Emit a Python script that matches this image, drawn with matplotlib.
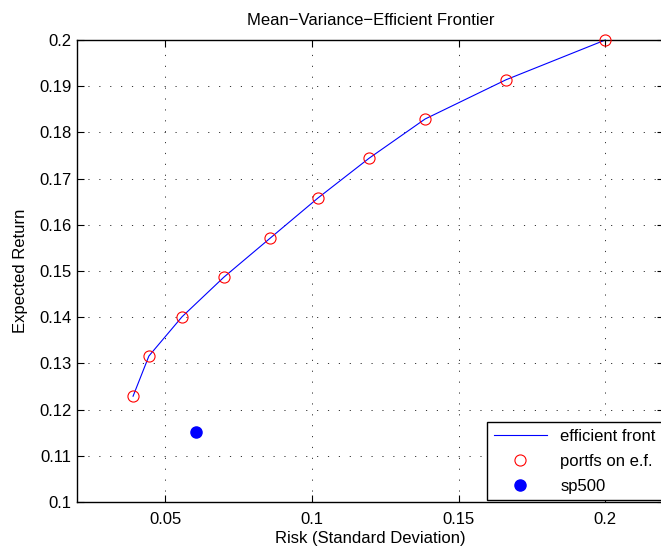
import numpy as np
import matplotlib.pyplot as plt

plt.rcParams['font.family'] = ['Liberation Sans', 'DejaVu Sans']

# efficient frontier portfolios (risk, return)
risk = [0.0391, 0.0445, 0.0558, 0.0701, 0.0858, 0.1021, 0.1195, 0.1386, 0.1662, 0.2000]
ret = [0.1229, 0.1316, 0.1401, 0.1487, 0.1571, 0.1658, 0.1744, 0.1829, 0.1914, 0.2000]
sp500_risk = [0.0605]
sp500_ret = [0.1152]

xticks = [0.05, 0.1, 0.15, 0.2]
yticks = [0.1, 0.11, 0.12, 0.13, 0.14, 0.15, 0.16, 0.17, 0.18, 0.19, 0.2]

fig = plt.figure(figsize=(6.61, 5.49), dpi=100)
ax = fig.add_axes([77/661, 47/549, 587/661, 462/549])

ax.plot(risk, ret, color='blue', lw=0.8, label='efficient front', clip_on=False)
ax.plot(risk, ret, 'o', mfc='none', mec='red', ms=8, mew=0.8, label='portfs on e.f.',
        clip_on=False, zorder=3)
ax.plot(sp500_risk, sp500_ret, 'o', color='blue', ms=8, label='sp500')

ax.set_xlim(0.02, 0.22)
ax.set_ylim(0.1, 0.2)
ax.set_xticks(xticks)
ax.set_xticklabels([f'{t:g}' for t in xticks])
ax.set_yticks(yticks)
ax.set_yticklabels([f'{t:g}' for t in yticks])
ax.tick_params(direction='in', length=5, labelsize=12, top=True, right=True)
ax.tick_params(axis='x', pad=7)
ax.tick_params(axis='y', pad=4)
ax.grid(True, color='#333333', linestyle=(0, (1.2, 10)), linewidth=0.7)
for s in ax.spines.values():
    s.set_linewidth(1.0)

ax.set_title('Mean\u2212Variance\u2212Efficient Frontier', fontsize=12, pad=11)
ax.set_xlabel('Risk (Standard Deviation)', fontsize=12, labelpad=3)
ax.set_ylabel('Expected Return', fontsize=12, labelpad=8)

leg = ax.legend(loc='lower right', fontsize=12, fancybox=False, framealpha=1,
                edgecolor='black', handlelength=3.2, labelspacing=0.6,
                borderaxespad=0.1)
leg.get_frame().set_linewidth(1.0)

fig.savefig('out.png', dpi=100)
